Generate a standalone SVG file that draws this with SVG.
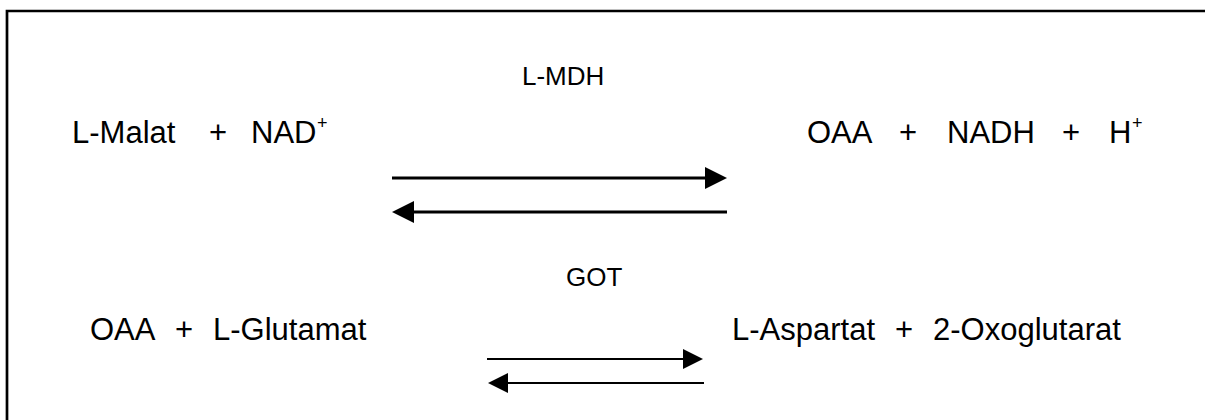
<svg xmlns="http://www.w3.org/2000/svg" width="1205" height="420" viewBox="0 0 1205 420">
  <style>
    .eq { font-family: "Liberation Sans", Arial, sans-serif; font-size: 31px; fill: #000; }
    .enz { font-family: "Liberation Sans", Arial, sans-serif; font-size: 26px; fill: #000; }
    .sup { font-size: 18px; }
    .frame { fill: none; stroke: #000; stroke-width: 2.7; }
    .arr1 { stroke: #000; stroke-width: 3; fill: none; marker-end: url(#head1); }
    .arr2 { stroke: #000; stroke-width: 2.2; fill: none; marker-end: url(#head2); }
  </style>
  <defs>
    <marker id="head1" markerUnits="userSpaceOnUse" viewBox="0 0 22 22" refX="0" refY="11" markerWidth="22" markerHeight="22" orient="auto">
      <path d="M0,0 L22,11 L0,22 Z" fill="#000"/>
    </marker>
    <marker id="head2" markerUnits="userSpaceOnUse" viewBox="0 0 20 20" refX="0" refY="10" markerWidth="20" markerHeight="20" orient="auto">
      <path d="M0,0 L20,10 L0,20 Z" fill="#000"/>
    </marker>
  </defs>

  <rect width="1205" height="420" fill="#fff"/>
  <path class="frame" d="M7,420 V11 H1206"/>

  <!-- Reaction 1: malate dehydrogenase -->
  <g id="malat-nad">
    <text class="eq" y="143"><tspan x="72">L-Malat</tspan><tspan x="209">+</tspan><tspan x="251">NAD</tspan><tspan class="sup" x="317" y="129">+</tspan></text>
  </g>
  <g id="oaa-nadh">
    <text class="eq" y="143"><tspan x="807">OAA</tspan><tspan x="899">+</tspan><tspan x="947">NADH</tspan><tspan x="1062">+</tspan><tspan x="1109">H</tspan><tspan class="sup" x="1132" y="129">+</tspan></text>
  </g>
  <g id="l-mdh">
    <text class="enz" x="522" y="85">L-MDH</text>
  </g>

  <!-- Reaction 2: aspartate aminotransferase -->
  <g id="oaa-glutamat">
    <text class="eq" y="340"><tspan x="90">OAA</tspan><tspan x="175">+</tspan><tspan x="213">L-Glutamat</tspan></text>
  </g>
  <g id="aspartat-oxoglutarat">
    <text class="eq" y="340"><tspan x="732">L-Aspartat</tspan><tspan x="895">+</tspan><tspan x="933">2-Oxoglutarat</tspan></text>
  </g>
  <g id="got">
    <text class="enz" x="566" y="286">GOT</text>
  </g>

  <!-- Equilibrium arrows -->
  <g id="connectors">
    <line class="arr1" x1="392" y1="178" x2="705" y2="178"/>
    <line class="arr1" x1="727" y1="212" x2="414" y2="212"/>
    <line class="arr2" x1="487" y1="359" x2="683" y2="359"/>
    <line class="arr2" x1="704" y1="383" x2="508" y2="383"/>
  </g>
</svg>
